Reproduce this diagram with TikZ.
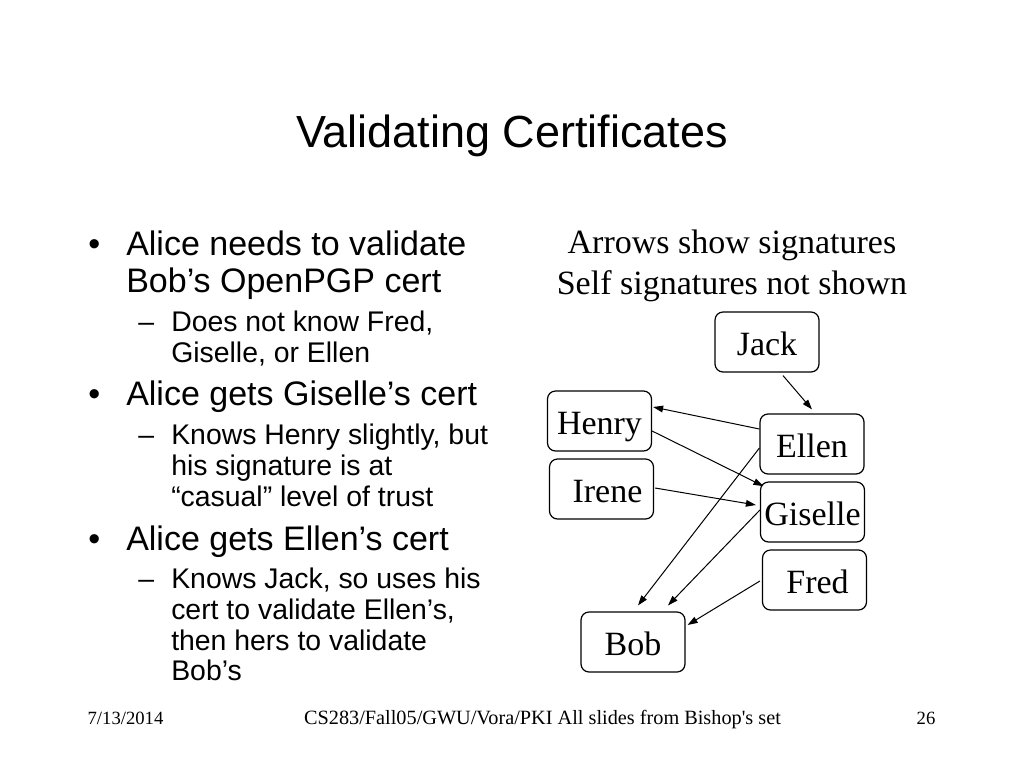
\documentclass[tikz,border=0pt]{standalone}
\usepackage{fontspec}
\setmainfont{Liberation Sans}
\newfontfamily\seriffont{Liberation Serif}
\usetikzlibrary{calc,arrows.meta}
\tikzset{
  pbox/.style={draw=black, line width=0.9pt, rounded corners=6pt, minimum width=78pt, minimum height=45pt, inner sep=0pt, text height=22pt, text depth=2.5pt, font=\seriffont\fontsize{25.5}{28}\selectfont},
  sig/.style={line width=0.75pt, -{Triangle[length=7.5pt,width=5pt]}},
  bul/.style={anchor=base west, inner sep=0pt, font=\fontsize{25.5}{28}\selectfont},
  sub/.style={anchor=base west, inner sep=0pt, font=\fontsize{21.3}{24}\selectfont},
  foot/.style={anchor=base, inner sep=0pt, font=\seriffont\fontsize{14}{16}\selectfont},
}
\begin{document}
\begin{tikzpicture}[x=0.75pt,y=-0.75pt]
\useasboundingbox[fill=white] (0,0) rectangle (1024,768);
% title
\node[anchor=base, inner sep=0pt, font=\fontsize{33.75}{38}\selectfont] (title) at (512,147) {Validating Certificates};
% bullets
\node[bul] (b1) at (88,255) {•};
\node[bul] (t1a) at (126,255) {Alice needs to validate};
\node[bul] (t1b) at (126,292.5) {Bob’s OpenPGP cert};
\node[sub] (d1) at (138,331.5) {–};
\node[sub] (s1a) at (171,331.5) {Does not know Fred,};
\node[sub] (s1b) at (171,362) {Giselle, or Ellen};
\node[bul] (b2) at (88,405) {•};
\node[bul] (t2a) at (126,405) {Alice gets Giselle’s cert};
\node[sub] (d2) at (138,444) {–};
\node[sub] (s2a) at (171,444) {Knows Henry slightly, but};
\node[sub] (s2b) at (171,475) {his signature is at};
\node[sub] (s2c) at (171,506) {“casual” level of trust};
\node[bul] (b3) at (88,550) {•};
\node[bul] (t3a) at (126,550) {Alice gets Ellen’s cert};
\node[sub] (d3) at (138,588) {–};
\node[sub] (s3a) at (171,588) {Knows Jack, so uses his};
\node[sub] (s3b) at (171,619) {cert to validate Ellen’s,};
\node[sub] (s3c) at (171,650) {then hers to validate};
\node[sub] (s3d) at (171,680.5) {Bob’s};
% diagram caption
\node[anchor=base, inner sep=0pt, font=\seriffont\fontsize{25.5}{28}\selectfont] (cap1) at (732,253) {Arrows show signatures};
\node[anchor=base, inner sep=0pt, font=\seriffont\fontsize{25.5}{28}\selectfont] (cap2) at (732,294) {Self signatures not shown};
% nodes
\node[pbox] (jack) at (767,342) {Jack};
\node[pbox] (henry) at (599.5,421) {Henry};
\node[pbox] (ellen) at (812,444) {Ellen};
\node[pbox] (irene) at (601.5,489) {\hspace*{9pt}Irene};
\node[pbox] (giselle) at (812.5,512) {Giselle};
\node[pbox] (fred) at (814.5,580) {\hspace*{4.5pt}Fred};
\node[pbox] (bob) at (633,642) {Bob};
% signatures
\draw[sig] ($(jack.south)+(16,3)$) -- ($(ellen.north)+(0,-4)$);
\draw[sig] ($(ellen.west)+(0,-15)$) -- ($(henry.east)+(1,-14)$);
\draw[sig] ($(henry.east)+(0,10)$) -- ($(giselle.north west)+(3.5,4.7)$);
\draw[sig] ($(irene.east)+(1,-1)$) -- ($(giselle.west)+(-4,-7)$);
\draw[sig] ($(ellen.west)+(0,4)$) -- ($(bob.north)+(5,-6)$);
\draw[sig] ($(giselle.west)+(0,-2)$) -- ($(bob.north)+(35,-6)$);
\draw[sig] ($(fred.west)+(-2,1)$) -- ($(bob.east)+(2,-17)$);
% footer
\node[foot] (date) at (125.5,724) {7/13/2014};
\node[foot, font=\seriffont\fontsize{15.2}{17}\selectfont] (course) at (542.5,724) {CS283/Fall05/GWU/Vora/PKI All slides from Bishop's set};
\node[foot] (page) at (926,724) {26};
\end{tikzpicture}
\end{document}
